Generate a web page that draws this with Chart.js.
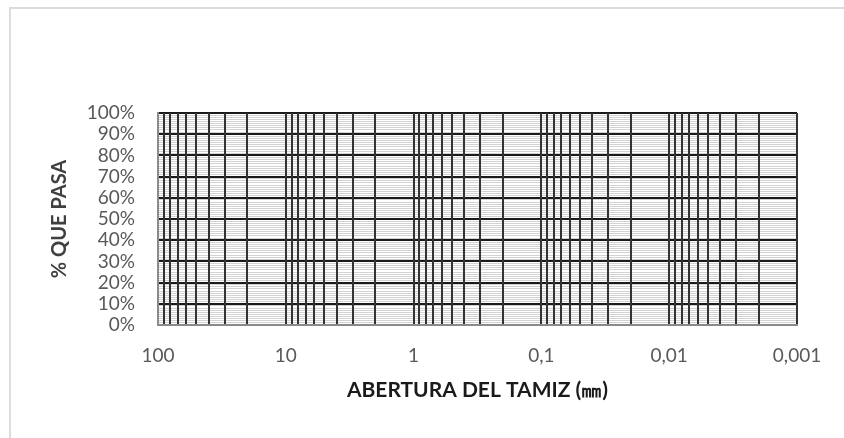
<!DOCTYPE html>
<html>
<head>
<meta charset="utf-8">
<script src="https://cdn.jsdelivr.net/npm/chart.js@4/dist/chart.umd.min.js"></script>
<style>
  html, body { margin: 0; padding: 0; background: #fff; overflow: hidden; }
  #wrap { position: relative; width: 844px; height: 438px; }
  #marco { position: absolute; left: 9px; top: 7px; width: 900px; height: 500px;
           border-left: 2px solid #dcdcdc; border-top: 2px solid #dcdcdc; }
  canvas { position: absolute; left: 0; top: 0; }
</style>
</head>
<body>
<div id="wrap">
  <div id="marco"></div>
  <canvas id="curva" width="844" height="438"></canvas>
</div>
<script>
// Abertura de tamices (mm): décadas mostradas en el eje X
const decadas = [100, 10, 1, 0.1, 0.01, 0.001];
const etiquetasX = ['100', '10', '1', '0,1', '0,01', '0,001'];
// Subdivisiones logarítmicas dentro de cada década
const multiplos = [1, 2, 3, 4, 5, 6, 7, 8, 9];
// Porcentaje que pasa: rango y divisiones del eje Y
const pasaMin = 0;
const pasaMax = 100;
const pasoMayor = 10;
const pasoMenor = 1;
// Serie granulométrica (sin ensayos cargados)
const aberturas = [];
const porcentajes = [];

const fuente = "Lato, 'Open Sans', sans-serif";

const puntos = aberturas.map((a, i) => ({ x: a, y: porcentajes[i] }));

new Chart(document.getElementById('curva'), {
  type: 'scatter',
  data: {
    datasets: [{
      label: '% que pasa',
      data: puntos,
      showLine: true,
      borderColor: '#1f4e79',
      pointRadius: 3
    }]
  },
  options: {
    responsive: false,
    animation: false,
    devicePixelRatio: 1,
    layout: { padding: { left: 40, right: 47, top: 113, bottom: 0 } },
    plugins: { legend: { display: false }, tooltip: { enabled: false } },
    scales: {
      x: {
        type: 'logarithmic',
        reverse: true,
        min: Math.min(...decadas),
        max: Math.max(...decadas),
        afterBuildTicks: scale => {
          const ticks = [];
          const lo = Math.min(...decadas);
          const hi = Math.max(...decadas);
          for (let d = lo; d < hi * 0.999; d *= 10) {
            multiplos.forEach(m => ticks.push({ value: +(d * m).toPrecision(6) }));
          }
          ticks.push({ value: hi });
          scale.ticks = ticks;
        },
        afterFit: scale => { scale.height = 113; },
        grid: {
          z: 0,
          drawTicks: false,
          color: '#333333',
          lineWidth: 2
        },
        border: { display: true, color: '#8a8a8a', width: 2, z: 1 },
        ticks: {
          autoSkip: false,
          maxRotation: 0,
          padding: 19,
          color: '#595959',
          font: { family: fuente, size: 19 },
          callback: function (value) {
            const i = decadas.findIndex(d => Math.abs(value - d) / d < 1e-6);
            return i >= 0 ? etiquetasX[i] : '';
          }
        },
        title: {
          display: true,
          text: 'ABERTURA DEL TAMIZ (㎜)',
          color: '#1a1a1a',
          font: { family: fuente, size: 21, weight: 'bold' },
          padding: { top: 0, bottom: 35 }
        }
      },
      y: {
        type: 'linear',
        min: pasaMin,
        max: pasaMax,
        afterBuildTicks: scale => {
          const ticks = [];
          for (let v = pasaMin; v <= pasaMax; v += pasoMenor) ticks.push({ value: v });
          scale.ticks = ticks;
        },
        afterFit: scale => { scale.width = 118; },
        grid: {
          z: -1,
          drawTicks: false,
          color: ctx => (ctx.tick && ctx.tick.value % pasoMayor === 0) ? '#1a1a1a' : '#d2d2d2',
          lineWidth: ctx => (ctx.tick && ctx.tick.value % pasoMayor === 0) ? 2 : 1
        },
        border: { display: true, color: '#8a8a8a', width: 2, z: 1 },
        ticks: {
          autoSkip: false,
          padding: 23,
          color: '#595959',
          font: { family: fuente, size: 19 },
          callback: v => (v % pasoMayor === 0) ? v + '%' : ''
        },
        title: {
          display: true,
          text: '% QUE PASA',
          color: '#404040',
          font: { family: fuente, size: 20, weight: 'bold' },
          padding: { top: 8, bottom: 0 }
        }
      }
    }
  }
});
</script>
</body>
</html>
